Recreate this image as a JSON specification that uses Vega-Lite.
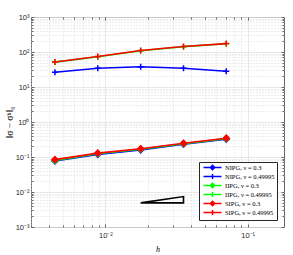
{
  "$schema": "https://vega.github.io/schema/vega-lite/v6.json",
  "width": 253,
  "height": 210,
  "autosize": "none",
  "padding": {"left": 31, "top": 17, "right": 9, "bottom": 28},
  "background": "white",
  "config": {
    "view": {"stroke": "#666666", "strokeWidth": 1},
    "axis": {"labelFont": "Liberation Sans", "labelFontSize": 7.5, "labelColor": "#262626", "titleFont": "Liberation Serif", "titleFontWeight": "normal", "titleColor": "black", "domain": false},
    "legend": {"orient": "bottom-right", "offset": 7, "title": null, "padding": 2, "rowPadding": -4.6, "strokeColor": "#262626", "fillColor": "white", "labelFont": "Liberation Serif", "labelFontSize": 6.5, "labelColor": "black", "symbolSize": 25, "symbolStrokeWidth": 1.5, "symbolOpacity": 1, "symbolOffset": 8, "labelOffset": 9}
  },
  "datasets": {
    "err": [
      {"h": 0.00442, "v": 0.077, "s": "NIPG, ν = 0.3"},
      {"h": 0.00884, "v": 0.119, "s": "NIPG, ν = 0.3"},
      {"h": 0.0177, "v": 0.160, "s": "NIPG, ν = 0.3"},
      {"h": 0.0354, "v": 0.232, "s": "NIPG, ν = 0.3"},
      {"h": 0.0707, "v": 0.325, "s": "NIPG, ν = 0.3"},
      {"h": 0.00442, "v": 26.3, "s": "NIPG, ν = 0.49995"},
      {"h": 0.00884, "v": 34.2, "s": "NIPG, ν = 0.49995"},
      {"h": 0.0177, "v": 38.0, "s": "NIPG, ν = 0.49995"},
      {"h": 0.0354, "v": 34.2, "s": "NIPG, ν = 0.49995"},
      {"h": 0.0707, "v": 28.1, "s": "NIPG, ν = 0.49995"},
      {"h": 0.00442, "v": 0.080, "s": "IIPG, ν = 0.3"},
      {"h": 0.00884, "v": 0.124, "s": "IIPG, ν = 0.3"},
      {"h": 0.0177, "v": 0.166, "s": "IIPG, ν = 0.3"},
      {"h": 0.0354, "v": 0.240, "s": "IIPG, ν = 0.3"},
      {"h": 0.0707, "v": 0.335, "s": "IIPG, ν = 0.3"},
      {"h": 0.00442, "v": 51.5, "s": "IIPG, ν = 0.49995"},
      {"h": 0.00884, "v": 73.5, "s": "IIPG, ν = 0.49995"},
      {"h": 0.0177, "v": 109, "s": "IIPG, ν = 0.49995"},
      {"h": 0.0354, "v": 142, "s": "IIPG, ν = 0.49995"},
      {"h": 0.0707, "v": 172, "s": "IIPG, ν = 0.49995"},
      {"h": 0.00442, "v": 0.084, "s": "SIPG, ν = 0.3"},
      {"h": 0.00884, "v": 0.129, "s": "SIPG, ν = 0.3"},
      {"h": 0.0177, "v": 0.172, "s": "SIPG, ν = 0.3"},
      {"h": 0.0354, "v": 0.248, "s": "SIPG, ν = 0.3"},
      {"h": 0.0707, "v": 0.345, "s": "SIPG, ν = 0.3"},
      {"h": 0.00442, "v": 52, "s": "SIPG, ν = 0.49995"},
      {"h": 0.00884, "v": 74, "s": "SIPG, ν = 0.49995"},
      {"h": 0.0177, "v": 110, "s": "SIPG, ν = 0.49995"},
      {"h": 0.0354, "v": 143, "s": "SIPG, ν = 0.49995"},
      {"h": 0.0707, "v": 174, "s": "SIPG, ν = 0.49995"}
    ],
    "tri": [
      {"h": 0.0177, "v": 0.0049, "o": 1},
      {"h": 0.0354, "v": 0.0049, "o": 2},
      {"h": 0.0354, "v": 0.0074, "o": 3},
      {"h": 0.0177, "v": 0.0049, "o": 4}
    ]
  },
  "resolve": {"axis": {"x": "independent", "y": "independent"}},
  "layer": [
    {
      "data": {"name": "err"},
      "mark": {"type": "line", "strokeWidth": 1.6},
      "encoding": {
        "x": {"field": "h", "type": "quantitative",
          "scale": {"type": "log", "domain": [0.003, 0.18], "nice": false},
          "axis": {"title": "h", "titleFontStyle": "italic", "titleFontSize": 8, "titlePadding": 7,
            "values": [0.003,0.004,0.005,0.006,0.007,0.008,0.009,0.01,0.02,0.03,0.04,0.05,0.06,0.07,0.08,0.09,0.1],
            "labelExpr": "datum.value == 0.01 ? '10⁻²' : datum.value == 0.1 ? '10⁻¹' : ''",
            "labelPadding": 7,
            "tickSize": {"condition": {"test": "datum.value == 0.01 || datum.value == 0.1", "value": -3}, "value": -2},
            "tickColor": "#666666",
            "grid": true,
            "gridColor": {"condition": {"test": "datum.value == 0.01 || datum.value == 0.1", "value": "#e2e2e2"}, "value": "#d4d4d4"},
            "gridDash": {"condition": {"test": "datum.value == 0.01 || datum.value == 0.1", "value": []}, "value": [1, 2]},
            "gridWidth": 0.8}},
        "y": {"field": "v", "type": "quantitative",
          "scale": {"type": "log", "domain": [0.001, 1000], "nice": false},
          "axis": {"title": "‖σ − σʰ‖₀", "titleFontSize": 9.5, "titlePadding": 1,
            "values": [0.001,0.002,0.003,0.004,0.005,0.006,0.007,0.008,0.009,0.01,0.02,0.03,0.04,0.05,0.06,0.07,0.08,0.09,0.1,0.2,0.3,0.4,0.5,0.6,0.7,0.8,0.9,1,2,3,4,5,6,7,8,9,10,20,30,40,50,60,70,80,90,100,200,300,400,500,600,700,800,900,1000],
            "labelExpr": "datum.value == 0.001 ? '10⁻³' : datum.value == 0.01 ? '10⁻²' : datum.value == 0.1 ? '10⁻¹' : datum.value == 1 ? '10⁰' : datum.value == 10 ? '10¹' : datum.value == 100 ? '10²' : datum.value == 1000 ? '10³' : ''",
            "labelPadding": 5,
            "tickSize": {"condition": {"test": "indexof([0.001,0.01,0.1,1,10,100,1000], datum.value) >= 0", "value": -3}, "value": -2},
            "tickColor": "#666666",
            "grid": true,
            "gridColor": {"condition": {"test": "indexof([0.001,0.01,0.1,1,10,100,1000], datum.value) >= 0", "value": "#e2e2e2"}, "value": "#d4d4d4"},
            "gridDash": {"condition": {"test": "indexof([0.001,0.01,0.1,1,10,100,1000], datum.value) >= 0", "value": []}, "value": [1, 2]},
            "gridWidth": 0.8}},
        "stroke": {"field": "s", "type": "nominal",
          "scale": {"domain": ["NIPG, ν = 0.3", "NIPG, ν = 0.49995", "IIPG, ν = 0.3", "IIPG, ν = 0.49995", "SIPG, ν = 0.3", "SIPG, ν = 0.49995"],
            "range": ["#0000ff", "#0000ff", "#00ff00", "#00ff00", "#ff0000", "#ff0000"]}},
        "detail": {"field": "s"}
      }
    },
    {
      "data": {"name": "err"},
      "transform": [{"filter": "test(/0\\.3$/, datum.s)"}],
      "mark": {"type": "point", "shape": "diamond", "size": 36, "filled": true, "strokeWidth": 1.5, "opacity": 1},
      "encoding": {
        "x": {"field": "h", "type": "quantitative", "axis": null},
        "y": {"field": "v", "type": "quantitative", "axis": null},
        "fill": {"field": "s", "type": "nominal",
          "scale": {"domain": ["NIPG, ν = 0.3", "NIPG, ν = 0.49995", "IIPG, ν = 0.3", "IIPG, ν = 0.49995", "SIPG, ν = 0.3", "SIPG, ν = 0.49995"],
            "range": ["#0000ff", "#0000ff", "#00ff00", "#00ff00", "#ff0000", "#ff0000"]}},
        "stroke": {"field": "s", "type": "nominal"}
      }
    },
    {
      "data": {"name": "err"},
      "transform": [{"filter": "test(/0\\.49995$/, datum.s)"}],
      "mark": {"type": "point", "shape": "M-1,0H1M0,-1V1", "size": 36, "filled": false, "strokeWidth": 1.5, "opacity": 1},
      "encoding": {
        "x": {"field": "h", "type": "quantitative", "axis": null},
        "y": {"field": "v", "type": "quantitative", "axis": null},
        "stroke": {"field": "s", "type": "nominal"}
      }
    },
    {
      "data": {"name": "tri"},
      "mark": {"type": "line", "color": "black", "strokeWidth": 1.6},
      "encoding": {
        "x": {"field": "h", "type": "quantitative",
          "axis": {"orient": "top", "title": null, "labels": false, "grid": false, "domain": false,
            "values": [0.003,0.004,0.005,0.006,0.007,0.008,0.009,0.01,0.02,0.03,0.04,0.05,0.06,0.07,0.08,0.09,0.1],
            "tickSize": {"condition": {"test": "datum.value == 0.01 || datum.value == 0.1", "value": -3}, "value": -2},
            "tickColor": "#666666"}},
        "y": {"field": "v", "type": "quantitative",
          "axis": {"orient": "right", "title": null, "labels": false, "grid": false, "domain": false,
            "values": [0.001,0.002,0.003,0.004,0.005,0.006,0.007,0.008,0.009,0.01,0.02,0.03,0.04,0.05,0.06,0.07,0.08,0.09,0.1,0.2,0.3,0.4,0.5,0.6,0.7,0.8,0.9,1,2,3,4,5,6,7,8,9,10,20,30,40,50,60,70,80,90,100,200,300,400,500,600,700,800,900,1000],
            "tickSize": {"condition": {"test": "indexof([0.001,0.01,0.1,1,10,100,1000], datum.value) >= 0", "value": -3}, "value": -2},
            "tickColor": "#666666"}},
        "order": {"field": "o", "type": "quantitative"}
      }
    },
    {
      "data": {"name": "err"},
      "mark": {"type": "point", "filled": true, "strokeWidth": 1.5, "opacity": 0},
      "encoding": {
        "x": {"field": "h", "type": "quantitative", "axis": null},
        "y": {"field": "v", "type": "quantitative", "axis": null},
        "fill": {"field": "s", "type": "nominal"},
        "stroke": {"field": "s", "type": "nominal"},
        "shape": {"field": "s", "type": "nominal",
          "scale": {"domain": ["NIPG, ν = 0.3", "NIPG, ν = 0.49995", "IIPG, ν = 0.3", "IIPG, ν = 0.49995", "SIPG, ν = 0.3", "SIPG, ν = 0.49995"],
            "range": ["M-3.6,0H3.6M0,-0.88L0.88,0L0,0.88L-0.88,0Z", "M-3.6,0H3.6M0,-1V1", "M-3.6,0H3.6M0,-0.88L0.88,0L0,0.88L-0.88,0Z", "M-3.6,0H3.6M0,-1V1", "M-3.6,0H3.6M0,-0.88L0.88,0L0,0.88L-0.88,0Z", "M-3.6,0H3.6M0,-1V1"]}}
      }
    }
  ]
}
